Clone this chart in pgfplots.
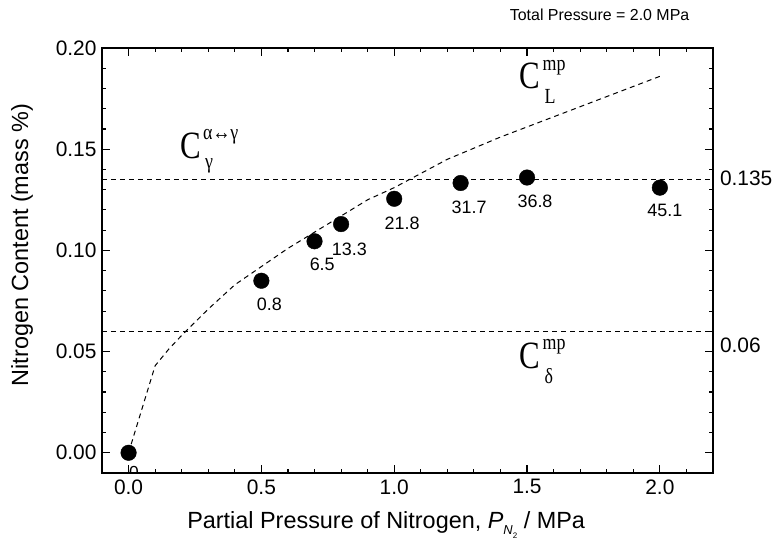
\documentclass[border=0pt]{standalone}
\usepackage{fontspec}
\setmainfont{Liberation Sans}
\newfontfamily\serif{Liberation Serif}
\usepackage{graphicx}
\usepackage{pgfplots}
\pgfplotsset{compat=1.18}

\newcommand{\bigC}{\scalebox{1}[1.25]{\fontsize{31}{31}\selectfont\serif C}}
\newcommand{\supsub}[1]{\scalebox{1}[1.2]{\fontsize{18}{18}\selectfont\serif #1}}

\begin{document}
\begin{tikzpicture}
\path[use as bounding box] (-102bp,-75bp) rectangle (673bp,473bp);
\begin{scope}
\clip (0,0) rectangle (611bp,425bp);
\node[font=\fontsize{17.5}{17.5}\selectfont] at (32bp,1bp) {0};
\end{scope}
\begin{axis}[
  at={(0,0)}, anchor=south west,
  scale only axis, width=611bp, height=425bp,
  xmin=-0.1, xmax=2.2, ymin=-0.01, ymax=0.2,
  xtick={0,0.5,1.0,1.5,2.0},
  ytick={0,0.05,0.1,0.15,0.2},
  minor xtick={0.1,0.2,0.3,0.4,0.6,0.7,0.8,0.9,1.1,1.2,1.3,1.4,1.6,1.7,1.8,1.9,2.1},
  minor ytick={0.01,0.02,0.03,0.04,0.06,0.07,0.08,0.09,0.11,0.12,0.13,0.14,0.16,0.17,0.18,0.19},
  scaled ticks=false,
  tick align=inside,
  major tick length=8bp, minor tick length=4.5bp,
  axis line style={line width=1.4bp},
  every tick/.style={line width=1.1bp, black},
  tick label style={font=\fontsize{21}{21}\selectfont},
  xticklabel style={yshift=-3bp, /pgf/number format/.cd, fixed, fixed zerofill, precision=1},
  yticklabel style={xshift=-2bp, /pgf/number format/.cd, fixed, fixed zerofill, precision=2},
  /pgf/number format/assume math mode=true,
  xlabel={Partial Pressure of Nitrogen, \textit{P}\raisebox{-0.5ex}{\fontsize{13}{13}\selectfont\textit{N}\raisebox{-0.5ex}{\fontsize{8}{8}\selectfont 2}} / MPa},
  ylabel={Nitrogen Content (mass \%)},
  every axis x label/.style={at={(axis description cs:0.465,-0.122)}, anchor=center, font=\fontsize{23.5}{27}\selectfont},
  every axis y label/.style={at={(axis description cs:-0.131,0.536)}, anchor=center, rotate=90, font=\fontsize{23.5}{27}\selectfont},
  clip=false,
]
% C_L^mp curve
\addplot[black, line width=1bp, dash pattern=on 5bp off 4bp] coordinates {
  (0,0) (0.1,0.043) (0.15,0.051) (0.2,0.058) (0.3,0.071) (0.4,0.083)
  (0.5,0.092) (0.6,0.101) (0.7,0.109) (0.8,0.117) (0.9,0.125) (1.0,0.131)
  (1.1,0.138) (1.2,0.145) (1.4,0.156) (1.6,0.166) (1.8,0.176) (2.0,0.186)
};
% horizontal limits
\addplot[black, line width=1bp, dash pattern=on 5bp off 4bp] coordinates {(-0.1,0.135) (2.2,0.135)};
\addplot[black, line width=1bp, dash pattern=on 5bp off 4bp] coordinates {(-0.1,0.06) (2.2,0.06)};
% measured points
\addplot[only marks, mark=*, mark size=7.8bp, black] coordinates {
  (0,0) (0.5,0.085) (0.7,0.1045) (0.8,0.113) (1.0,0.1255) (1.25,0.1333) (1.5,0.136) (2.0,0.131)
};
% point labels
\addplot[draw=none, mark=none, nodes near coords, point meta=explicit symbolic,
  nodes near coords style={anchor=center, inner sep=0pt, font=\fontsize{18}{18}\selectfont}]
  table[meta=label] {
x y label
0.530 0.0731 0.8
0.729 0.0929 6.5
0.831 0.1007 13.3
1.030 0.1136 21.8
1.282 0.1215 31.7
1.530 0.1240 36.8
2.019 0.1195 45.1
};
% right-hand values
\node[anchor=west, font=\fontsize{21}{21}\selectfont] at (axis cs:2.2,0.1355) {\,0.135};
\node[anchor=west, font=\fontsize{21}{21}\selectfont] at (axis cs:2.2,0.0533) {\,0.06};
% title text
\node[anchor=east, font=\fontsize{16}{16}\selectfont] at (axis cs:2.124,0.2163) {Total Pressure = 2.0 MPa};
% phase-limit labels
\node[inner sep=0pt] (Cg) at (axis cs:0.233,0.1516) {\bigC};
\node[inner sep=0pt, anchor=west] at ([xshift=2bp,yshift=9bp]Cg.east) {\supsub{α↔γ}};
\node[inner sep=0pt, anchor=west] at ([xshift=4bp,yshift=-20bp]Cg.east) {\supsub{γ}};
\node[inner sep=0pt] (CL) at (axis cs:1.511,0.186) {\bigC};
\node[inner sep=0pt, anchor=west] at ([xshift=2bp,yshift=9bp]CL.east) {\supsub{mp}};
\node[inner sep=0pt, anchor=west] at ([xshift=4bp,yshift=-20bp]CL.east) {\supsub{L}};
\node[inner sep=0pt] (Cd) at (axis cs:1.511,0.0479) {\bigC};
\node[inner sep=0pt, anchor=west] at ([xshift=2bp,yshift=9bp]Cd.east) {\supsub{mp}};
\node[inner sep=0pt, anchor=west] at ([xshift=4bp,yshift=-20bp]Cd.east) {\supsub{δ}};
\end{axis}
\end{tikzpicture}
\end{document}
